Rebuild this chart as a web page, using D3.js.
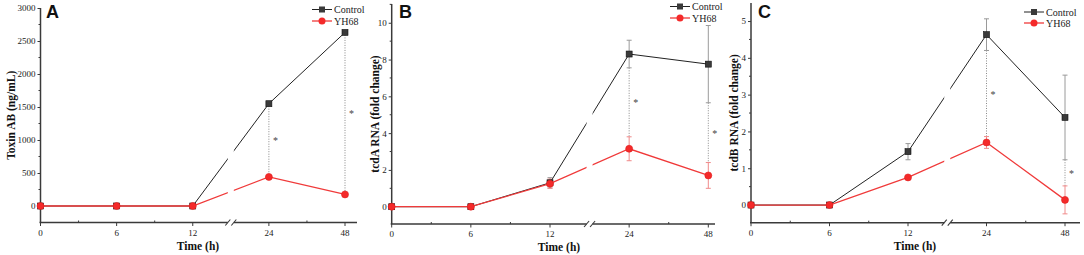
<!DOCTYPE html>
<html>
<head>
<meta charset="utf-8">
<script src="https://cdn.jsdelivr.net/npm/d3@7"></script>
<style>
  body { margin: 0; background: #fff; }
  svg text { font-family: "Liberation Serif", "Times New Roman", serif; }
</style>
</head>
<body>
<svg id="chart" width="1084" height="255"></svg>
<script>
// shared x categories (broken axis between 12 and 24)
var timeLabels = ["0", "6", "12", "24", "48"];

// panel A: toxin AB (ng/mL)
var toxinControl = [0, 0, 0, 1550, 2630];
var toxinYH68 = [0, 0, 0, 440, 175];

// panel B: tcdA RNA (fold change)
var tcdAControl = [0, 0, 1.3, 8.3, 7.75];
var tcdAControlErr = [0, 0, 0.28, 0.75, 2.1];
var tcdAYH68 = [0, 0, 1.25, 3.15, 1.7];
var tcdAYH68Err = [0, 0, 0.25, 0.65, 0.7];

// panel C: tcdB RNA (fold change)
var tcdBControl = [0, 0, 1.45, 4.63, 2.38];
var tcdBControlErr = [0, 0, 0.22, 0.43, 1.15];
var tcdBYH68 = [0, 0, 0.75, 1.7, 0.14];
var tcdBYH68Err = [0, 0, 0.05, 0.16, 0.38];

// indices where a significance marker is shown
var sigIdx = [3, 4];

var zeros = [0, 0, 0, 0, 0];

var panels = [
  { letter: "A", ytitle: "Toxin AB (ng/mL)", ctrl: toxinControl, ctrlErr: zeros, yh: toxinYH68, yhErr: zeros,
    x0: 40.5, x4: 345, xEnd: 357, yTop: 8, yBot: 222.5, yMin: -250, yMax: 3000, yStep: 500,
    titleX: 198, ytitleX: 11, letterX: 46, legX: 312, legY: 9.5, legGap: 11.5 },
  { letter: "B", ytitle: "tcdA RNA (fold change)", ctrl: tcdAControl, ctrlErr: tcdAControlErr, yh: tcdAYH68, yhErr: tcdAYH68Err,
    x0: 391.7, x4: 708.3, xEnd: 715, yTop: 4, yBot: 224, yMin: -0.94, yMax: 11.02, yStep: 2,
    titleX: 559, ytitleX: 375, letterX: 399, legX: 670, legY: 6.5, legGap: 11.5 },
  { letter: "C", ytitle: "tcdB RNA (fold change)", ctrl: tcdBControl, ctrlErr: tcdBControlErr, yh: tcdBYH68, yhErr: tcdBYH68Err,
    x0: 751, x4: 1065, xEnd: 1080, yTop: 3, yBot: 222.7, yMin: -0.48, yMax: 5.49, yStep: 1,
    titleX: 915, ytitleX: 734, letterX: 758, legX: 1024, legY: 12, legGap: 11 }
];

var svg = d3.select("#chart");
var ctrlColor = "#222";
var yhColor = "#f03a3a";

panels.forEach(function(p, pi) {
  var g = svg.append("g");
  var xEndIdx = (p.xEnd - p.x0) / ((p.x4 - p.x0) / 4);
  var x = d3.scaleLinear().domain([0, xEndIdx]).range([p.x0, p.xEnd]);
  var y = d3.scaleLinear().domain([p.yMin, p.yMax]).range([p.yBot, p.yTop]);
  var bx = x(2.5);

  // clip to make the gap at the axis break
  var clipId = "clip" + pi;
  var cp = svg.append("clipPath").attr("id", clipId);
  cp.append("rect").attr("x", p.x0 - 10).attr("y", 0).attr("width", bx - 3 - (p.x0 - 10)).attr("height", 255);
  cp.append("rect").attr("x", bx + 3).attr("y", 0).attr("width", p.xEnd + 10 - bx - 3).attr("height", 255);

  // x axis line with break
  var axG = g.append("g").attr("stroke", "#3a3a3a");
  axG.append("line").attr("x1", p.x0 - 1).attr("x2", bx - 3).attr("y1", p.yBot).attr("y2", p.yBot).attr("stroke-width", 1.6);
  axG.append("line").attr("x1", bx + 3).attr("x2", p.xEnd).attr("y1", p.yBot).attr("y2", p.yBot).attr("stroke-width", 1.6);
  [-3, 3].forEach(function(o) {
    axG.append("line").attr("x1", bx + o - 2.5).attr("x2", bx + o + 2.5)
      .attr("y1", p.yBot + 3).attr("y2", p.yBot - 3).attr("stroke-width", 1.1);
  });
  timeLabels.forEach(function(t, i) {
    axG.append("line").attr("x1", x(i)).attr("x2", x(i)).attr("y1", p.yBot).attr("y2", p.yBot + 3.5).attr("stroke-width", 1);
    g.append("text").attr("x", x(i)).attr("y", p.yBot + 13).attr("text-anchor", "middle")
      .attr("font-size", 9).attr("fill", "#222").text(t);
  });
  [0.5, 1.5, 3.5].forEach(function(m) {
    axG.append("line").attr("x1", x(m)).attr("x2", x(m)).attr("y1", p.yBot).attr("y2", p.yBot - 2).attr("stroke-width", 1);
  });

  // y axis
  var yAxis = d3.axisLeft(y).tickValues(d3.range(0, p.yMax + 1e-9, p.yStep))
    .tickFormat(function(d) { return String(Math.round(d)); }).tickSize(3).tickPadding(2);
  var yg = g.append("g").attr("transform", "translate(" + p.x0 + ",0)").call(yAxis);
  yg.select(".domain").attr("d", "M0," + p.yTop + "V" + p.yBot).attr("stroke", "#3a3a3a").attr("stroke-width", 1.5);
  yg.selectAll(".tick line").attr("stroke", "#3a3a3a");
  yg.selectAll(".tick text").attr("font-size", 9).attr("font-family", "Liberation Serif").attr("fill", "#222");
  d3.range(p.yStep / 2, p.yMax, p.yStep).forEach(function(v) {
    g.append("line").attr("x1", p.x0 - 2).attr("x2", p.x0).attr("y1", y(v)).attr("y2", y(v)).attr("stroke", "#3a3a3a");
  });

  // titles
  g.append("text").attr("x", p.titleX).attr("y", p.yBot + 27).attr("text-anchor", "middle")
    .attr("font-size", 11.5).attr("font-weight", "bold").attr("fill", "#111").text("Time (h)");
  g.append("text").attr("transform", "translate(" + p.ytitleX + "," + ((p.yTop + p.yBot) / 2) + ") rotate(-90)")
    .attr("text-anchor", "middle").attr("dy", "0.35em").attr("font-size", 11.5).attr("font-weight", "bold")
    .attr("fill", "#111").text(p.ytitle);
  g.append("text").attr("x", p.letterX).attr("y", 18).attr("font-size", 18).attr("font-weight", "bold")
    .style("font-family", "Liberation Sans, Arial, sans-serif").attr("fill", "#111").text(p.letter);

  // significance dotted lines + stars
  sigIdx.forEach(function(i) {
    var top = p.ctrl[i] - p.ctrlErr[i];
    var bot = p.yh[i] + p.yhErr[i];
    g.append("line").attr("x1", x(i)).attr("x2", x(i)).attr("y1", y(top)).attr("y2", y(bot))
      .attr("stroke", "#888").attr("stroke-width", 1).attr("stroke-dasharray", "1,1.5");
    g.append("text").attr("x", x(i) + 4).attr("y", y((top + bot) / 2) + 4).attr("font-size", 10)
      .attr("fill", "#444").text("*");
  });

  // error bars
  function errBars(vals, errs, color) {
    vals.forEach(function(v, i) {
      if (!errs[i]) return;
      var eg = g.append("g").attr("stroke", color).attr("stroke-width", 1);
      eg.append("line").attr("x1", x(i)).attr("x2", x(i)).attr("y1", y(v - errs[i])).attr("y2", y(v + errs[i]));
      [v - errs[i], v + errs[i]].forEach(function(e) {
        eg.append("line").attr("x1", x(i) - 2.5).attr("x2", x(i) + 2.5).attr("y1", y(e)).attr("y2", y(e));
      });
    });
  }
  errBars(p.ctrl, p.ctrlErr, "#9a9a9a");
  errBars(p.yh, p.yhErr, "#f08a8a");

  var line = d3.line().x(function(d, i) { return x(i); }).y(function(d) { return y(d); });

  g.append("path").datum(p.ctrl).attr("d", line).attr("fill", "none").attr("stroke", ctrlColor)
    .attr("stroke-width", 1).attr("clip-path", "url(#" + clipId + ")");
  g.selectAll(".sq").data(p.ctrl).enter().append("rect")
    .attr("x", function(d, i) { return x(i) - 3; }).attr("y", function(d) { return y(d) - 3; })
    .attr("width", 6).attr("height", 6).attr("fill", "#3a3a3a").attr("stroke", "#111").attr("stroke-width", 0.6);

  g.append("path").datum(p.yh).attr("d", line).attr("fill", "none").attr("stroke", yhColor)
    .attr("stroke-width", 1.3).attr("clip-path", "url(#" + clipId + ")");
  g.selectAll(".ci").data(p.yh).enter().append("circle")
    .attr("cx", function(d, i) { return x(i); }).attr("cy", function(d) { return y(d); })
    .attr("r", 3.5).attr("fill", "#f42a2a").attr("stroke", "#e01c1c").attr("stroke-width", 0.6);

  // legend
  var lg = g.append("g");
  [["Control", ctrlColor, "sq"], ["YH68", yhColor, "ci"]].forEach(function(s, k) {
    var ly = p.legY + k * p.legGap;
    lg.append("line").attr("x1", p.legX).attr("x2", p.legX + 20).attr("y1", ly).attr("y2", ly)
      .attr("stroke", s[1]).attr("stroke-width", k ? 1.3 : 1);
    if (s[2] === "sq") {
      lg.append("rect").attr("x", p.legX + 7).attr("y", ly - 3).attr("width", 6).attr("height", 6).attr("fill", "#3a3a3a");
    } else {
      lg.append("circle").attr("cx", p.legX + 10).attr("cy", ly).attr("r", 3.5).attr("fill", "#f42a2a");
    }
    lg.append("text").attr("x", p.legX + 22).attr("y", ly + 3.5).attr("font-size", 10).attr("fill", "#222").text(s[0]);
  });
});
</script>
</body>
</html>
